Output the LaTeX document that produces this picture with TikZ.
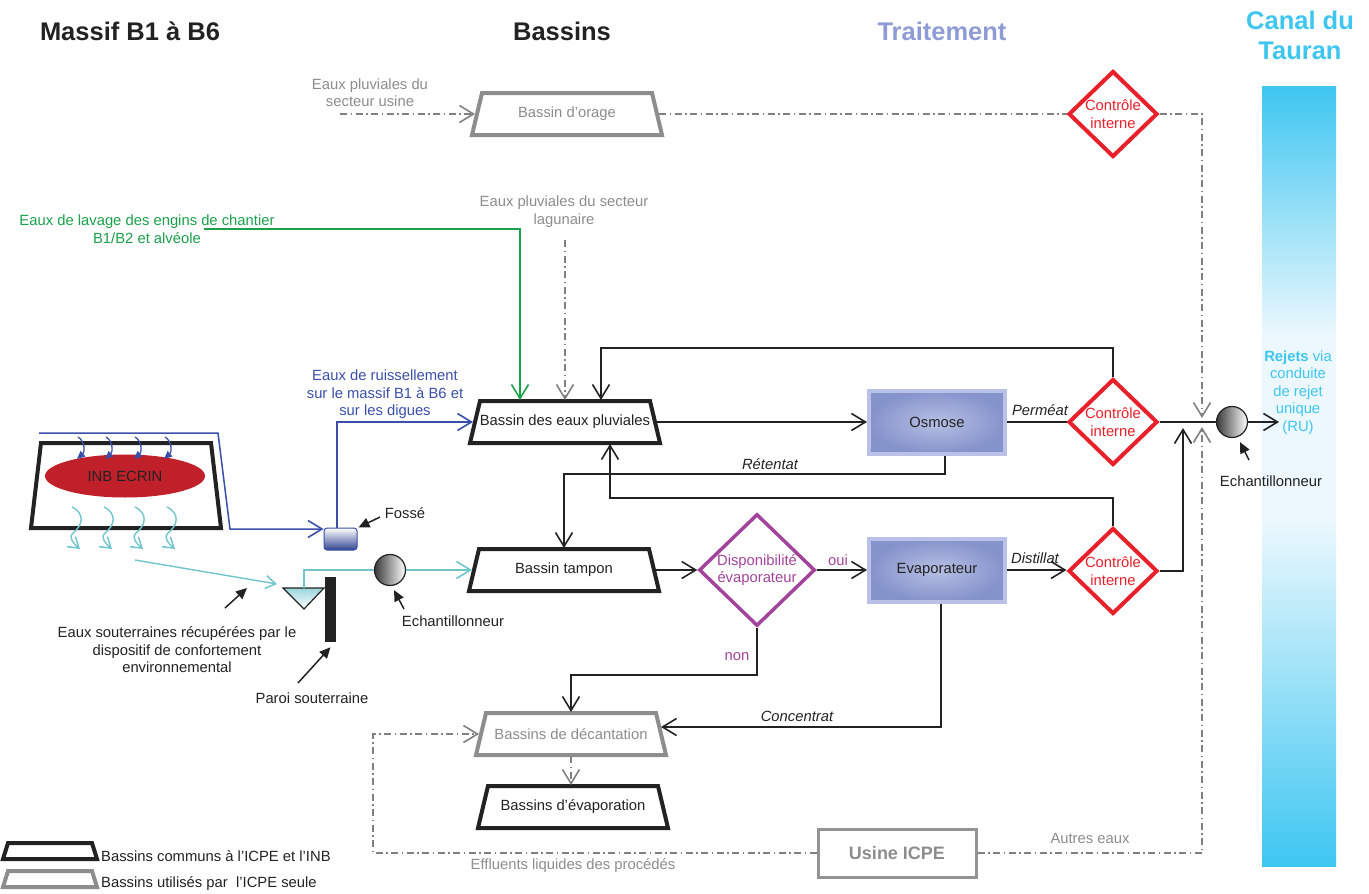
\documentclass[tikz,border=0pt]{standalone}
\usepackage{fontspec}
\setmainfont{Liberation Sans}
\usetikzlibrary{shapes.geometric,arrows.meta,calc}

\definecolor{ink}{HTML}{222222}
\definecolor{greyline}{HTML}{808080}
\definecolor{greytext}{HTML}{8C8C8C}
\definecolor{runoff}{HTML}{3A4FAA}
\definecolor{washgreen}{HTML}{1BA04B}
\definecolor{ctrlred}{HTML}{E8202A}
\definecolor{dispocol}{HTML}{A3449C}
\definecolor{treat}{HTML}{8E9BD4}
\definecolor{canal}{HTML}{3EC6F1}
\definecolor{canalpale}{HTML}{ECF8FD}
\definecolor{seep}{HTML}{70C5CD}
\definecolor{inbred}{HTML}{C0202A}
\definecolor{unitedge}{HTML}{B9C1E8}
\definecolor{unitin}{HTML}{B7BFE4}
\definecolor{unitout}{HTML}{8593CB}

\tikzset{
  txt/.style={font=\fontsize{14.8pt}{17.5pt}\selectfont, align=center, inner sep=0pt},
  heading/.style={font=\fontsize{25.5pt}{30pt}\selectfont\bfseries, align=center, inner sep=0pt},
  basin/.style={rectangle, minimum width=184pt, minimum height=44pt, inner sep=0pt, outer sep=0pt, txt},
  commonbasin/.style={basin, text=ink},
  icpebasin/.style={basin, text=greytext},
  ctrl/.style={diamond, draw=ctrlred, line width=4pt, minimum width=89pt, minimum height=86pt,
    inner sep=0pt, txt, text=ctrlred, fill=white},
  process/.style={rectangle, draw=unitedge, line width=4pt, inner color=unitin, outer color=unitout,
    minimum width=136pt, minimum height=63pt, txt, text=ink},
  chev/.style={-{Straight Barb[length=14pt,width=17pt,line width=1.6pt]}},
  flow/.style={draw=ink, line width=1.5pt, chev},
  link/.style={draw=ink, line width=1.5pt},
  dashdot/.style={draw=greyline, line width=1.4pt, dash pattern=on 7pt off 3.5pt on 1.5pt off 3.5pt},
  dflow/.style={dashdot, chev},
  pointer/.style={draw=ink, line width=1.5pt, -{Triangle[length=11pt,width=10pt]}},
  sampler/.style={circle, draw=ink, line width=1.2pt, minimum size=31pt, inner sep=0pt,
    left color=gray!45!black, right color=white},
  flowlbl/.style={txt, font=\fontsize{14.8pt}{17.5pt}\selectfont\itshape, text=ink},
  rain/.style={draw=runoff, line width=1.3pt, -{Triangle[length=8pt,width=7pt]}},
  seepflow/.style={draw=seep, line width=1.4pt, -{Straight Barb[length=10pt,width=13pt,line width=1.5pt]}},
  rim/.style={line width=4pt, line join=miter},
}

% trapezoidal outline of a basin, drawn around the named text node
\newcommand\basinrim[2]{%
  \draw[rim, #2] ([shift={(-85pt,21pt)}]#1.center) -- ([shift={(85pt,21pt)}]#1.center)
    -- ([shift={(95pt,-21pt)}]#1.center) -- ([shift={(-95pt,-21pt)}]#1.center) -- cycle;}

\begin{document}
\begin{tikzpicture}[x=1pt,y=-1pt]
\useasboundingbox (0,0) rectangle (1369,894);

% ---------- column headings ----------
\node[heading, text=ink] (hMassif) at (130,31) {Massif B1 à B6};
\node[heading, text=ink] (hBassins) at (562,31) {Bassins};
\node[heading, text=treat] (hTrait) at (942,31) {Traitement};
\node[heading, text=canal] (hCanal) at (1300,35) {Canal du\\Tauran};

% ---------- receiving canal ----------
\shade[top color=canal, bottom color=canalpale] (1262,86) rectangle (1336,336);
\fill[canalpale] (1262,335) rectangle (1336,521);
\shade[top color=canalpale, bottom color=canal] (1262,520) rectangle (1336,866);
\node[txt, text=canal] (rejets) at (1298,392.5) {\textbf{Rejets} via\\conduite\\de rejet\\unique\\(RU)};

% ---------- storm basin line ----------
\node[txt, text=greytext] (lblUsine) at (370,92.5) {Eaux pluviales du\\secteur usine};
\coordinate (usineIn) at (340,114);
\node[icpebasin] (orage) at (567,114) {Bassin d’orage};
\basinrim{orage}{greyline!90}
\node[ctrl] (ci1) at (1113,114) {Contrôle\\interne};
\draw[dflow] (usineIn) -- (orage.west);
\draw[dashdot] (orage.east) -- (ci1.west);
\coordinate (topDrop) at (1202,114);
\coordinate (topEnd) at (1202,418);
\draw[dflow] (ci1.east) -- (topDrop) -- (topEnd);

% ---------- main row ----------
\node[commonbasin] (pluv) at (565,422) {Bassin des eaux pluviales};
\basinrim{pluv}{ink}
\node[process] (osmose) at (937,422) {Osmose};
\node[ctrl] (ci2) at (1113,422) {Contrôle\\interne};
\node[sampler] (samp2) at (1232,422) {};
\coordinate (ruOut) at (1279,422);

% ---------- second row ----------
\node[commonbasin] (tampon) at (564,570) {Bassin tampon};
\basinrim{tampon}{ink}
\node[diamond, draw=dispocol, line width=3.5pt, minimum width=116pt, minimum height=112pt,
  inner sep=0pt, txt, text=dispocol, fill=white] (dispo) at (757,570) {Disponibilité\\évaporateur};
\node[process] (evap) at (937,570) {Evaporateur};
\node[ctrl] (ci3) at (1113,571) {Contrôle\\interne};

% ---------- lower basins ----------
\node[icpebasin] (decant) at (571,734) {Bassins de décantation};
\basinrim{decant}{greyline!90}
\node[commonbasin] (evapo) at (573,807) {Bassins d’évaporation};
\basinrim{evapo}{ink}
\node[rectangle, draw=greyline!85, line width=3pt, minimum width=158pt, minimum height=48pt,
  text=greytext, font=\fontsize{18pt}{21pt}\selectfont\bfseries] (usine) at (897,853) {Usine ICPE};

% ---------- inflows to the rain-water basin ----------
\node[txt, text=washgreen] (lblWash) at (147,229) {Eaux de lavage des engins de chantier\\B1/B2 et alvéole};
\coordinate (washIn) at (204,229);
\draw[flow, draw=washgreen] (washIn) -| ([xshift=-45]pluv.north);

\node[txt, text=greytext] (lblLag) at (564,211.5) {Eaux pluviales du secteur\\lagunaire};
\coordinate (lagIn) at (565,240);
\draw[dflow] (lagIn) -- (pluv.north);

\node[txt, text=runoff] (lblRuis) at (385,394.5) {Eaux de ruissellement\\sur le massif B1 à B6 et\\sur les digues};

% ---------- treatment flows ----------
\draw[flow] (pluv.east) -- (pluv.east -| osmose.west);
\draw[link] (osmose.east) -- (ci2.west);
\node[flowlbl] (lblPerm) at (1040,410) {Perméat};
\draw[link] (ci2.east) -- (samp2.west);
\draw[flow] (samp2.east) -- (ruOut);

\coordinate (loopTop) at (1113,348);
\draw[flow] (ci2.north) -- (loopTop) -| ([xshift=36]pluv.north);

\coordinate (retA) at (945,474);
\draw[flow] ([xshift=8]osmose.south) -- (retA) -| (tampon.north);
\node[flowlbl] (lblRet) at (770,464) {Rétentat};

\coordinate (loopMid) at (1113,498);
\draw[flow] (ci3.north) -- (loopMid) -| ([xshift=45]pluv.south);

\draw[flow] (tampon.east) -- (dispo.west);
\draw[flow] (dispo.east) -- (evap.west);
\node[txt, text=dispocol] (lblOui) at (838,560) {oui};
\draw[flow] (evap.east) -- (ci3.west |- evap.east);
\node[flowlbl] (lblDist) at (1035,558) {Distillat};

\coordinate (joinUp) at (1183,428);
\draw[flow] (ci3.east) -| (joinUp);

\coordinate (nonC) at (757,675);
\draw[flow] (dispo.south) -- (nonC) -| (decant.north);
\node[txt, text=dispocol] (lblNon) at (737,657) {non};

\draw[flow] ([xshift=4]evap.south) |- ([xshift=-2,yshift=7]decant.east);
\node[flowlbl] (lblConc) at (797,716) {Concentrat};

\draw[dflow] (decant.south) -- (decant.south |- evapo.north);

% ---------- process effluents ----------
\coordinate (effCorner) at (373,853);
\draw[dflow] (usine.west) -- (effCorner) |- (decant.west);
\node[txt, text=greytext] (lblEff) at (573,866) {Effluents liquides des procédés};
\coordinate (autresCorner) at (1202,853);
\coordinate (autresEnd) at (1202,427);
\draw[dflow] (usine.east) -- (autresCorner) -- (autresEnd);
\node[txt, text=greytext] (lblAutres) at (1090,838) {Autres eaux};

% ---------- storage mound ----------
\draw[rim, ink] (41,443) -- (211,443) -- (221,528) -- (31,528) -- cycle;
\node[ellipse, fill=inbred, minimum width=160pt, minimum height=43pt, inner sep=0pt,
  txt, text=ink] (inb) at (125,476) {INB ECRIN};

\foreach \x in {78,106,135,165}
  \draw[rain] (\x,437) .. controls (\x+7,441) and (\x+7,452) .. (\x-1,459);
\foreach \x in {72,104,135,167}
  \draw[seepflow] (\x,507) .. controls (\x+14,514) and (\x+10,526) .. (\x+1,533)
    .. controls (\x-4,538) and (\x+2,544) .. (\x+8,549);

% ditch
\node[rectangle, rounded corners=3pt, draw=runoff, line width=1pt, top color=white,
  bottom color=runoff!85!black, minimum width=33pt, minimum height=22pt, inner sep=0pt] (fosse) at (340.5,539) {};
\coordinate (runA) at (39,433);
\coordinate (runB) at (218,433);
\coordinate (runC) at (230,529);
\draw[flow, draw=runoff] (runA) -- (runB) -- (runC) -- (runC -| fosse.west);
\draw[flow, draw=runoff] ([xshift=-3.5]fosse.north) |- (pluv.west);

% groundwater collection
\coordinate (seepA) at (135,560);
\coordinate (seepB) at (277,584);
\draw[seepflow] (seepA) -- (seepB);
\coordinate (triL) at (283,588);
\coordinate (triR) at (324,588);
\coordinate (triB) at (304,609);
\draw[draw=ink, line width=1.2pt, top color=seep!70, bottom color=white] (triL) -- (triR) -- (triB) -- cycle;
\coordinate (triTop) at (304,588);
\node[sampler] (samp1) at (390,570) {};
\draw[draw=seep, line width=1.4pt] (triTop) |- (samp1.west);
\draw[flow, draw=seep] (samp1.east) -- (tampon.west);
\node[rectangle, fill=ink, minimum width=11pt, minimum height=65pt, inner sep=0pt] (paroi) at (330.5,609.5) {};

% ---------- callouts ----------
\node[txt, text=ink] (lblFosse) at (405,513) {Fossé};
\coordinate (fosseTail) at (380,517);
\draw[pointer] (fosseTail) -- ([xshift=1]fosse.north east);

\node[txt, text=ink] (lblSamp1) at (453,621) {Echantillonneur};
\coordinate (samp1Tail) at (404,609);
\draw[pointer] (samp1Tail) -- ([xshift=4,yshift=-4]samp1.south);

\node[txt, text=ink] (lblSout) at (177,650) {Eaux souterraines récupérées par le\\dispositif de confortement\\environnemental};
\coordinate (soutTail) at (225,608);
\coordinate (soutTip) at (247,588);
\draw[pointer] (soutTail) -- (soutTip);

\node[txt, text=ink] (lblParoi) at (312,698) {Paroi souterraine};
\coordinate (paroiTail) at (298,683);
\draw[pointer] (paroiTail) -- ([yshift=-5]paroi.south);

\node[txt, text=ink] (lblSamp2) at (1271,481) {Echantillonneur};
\coordinate (samp2Tail) at (1249,460);
\draw[pointer] (samp2Tail) -- ([xshift=8,yshift=-4]samp2.south);

% ---------- legend ----------
\draw[rim, ink] (8,843) -- (92,843) -- (97,859) -- (3,859) -- cycle;
\draw[rim, greyline!90] (8,871) -- (92,871) -- (97,887) -- (3,887) -- cycle;
\node[txt, text=ink, anchor=west] (legCommonTxt) at (101,856) {Bassins communs à l’ICPE et l’INB};
\node[txt, text=ink, anchor=west] (legIcpeTxt) at (101,884) {Bassins utilisés par \ l’ICPE seule};
\end{tikzpicture}
\end{document}
